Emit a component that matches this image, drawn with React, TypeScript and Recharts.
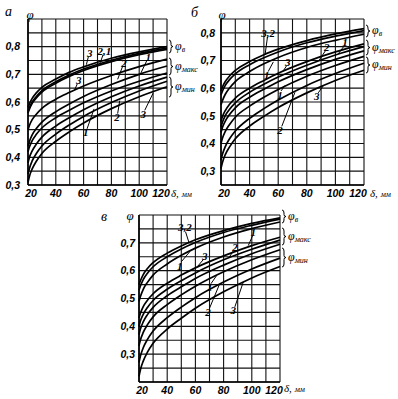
import React from 'react';
import { LineChart, Line, XAxis, YAxis, CartesianGrid, ReferenceLine, ReferenceDot } from 'recharts';

// δ, мм — points where the curves were read
const DELTA = [20, 21, 23, 26, 30, 40, 50, 60, 80, 100, 120];
const X_TICKS = [20, 30, 40, 50, 60, 70, 80, 90, 100, 110, 120];
const X_LABELS = [20, 40, 60, 80, 100, 120];

// panel а
const aPhiB3 = [0.58, 0.593, 0.613, 0.633, 0.653, 0.683, 0.708, 0.727, 0.758, 0.781, 0.8];
const aPhiB2 = [0.565, 0.579, 0.6, 0.62, 0.641, 0.673, 0.698, 0.719, 0.751, 0.776, 0.795];
const aPhiB1 = [0.56, 0.574, 0.595, 0.615, 0.636, 0.668, 0.693, 0.714, 0.746, 0.771, 0.79];
const aPhiMax2 = [0.5, 0.515, 0.536, 0.556, 0.577, 0.61, 0.635, 0.658, 0.696, 0.728, 0.755];
const aPhiMax1 = [0.44, 0.457, 0.481, 0.504, 0.527, 0.565, 0.594, 0.62, 0.663, 0.7, 0.73];
const aPhiMax3 = [0.42, 0.437, 0.46, 0.483, 0.506, 0.543, 0.571, 0.597, 0.64, 0.675, 0.705];
const aPhiMin1 = [0.38, 0.399, 0.423, 0.448, 0.473, 0.513, 0.544, 0.572, 0.619, 0.658, 0.69];
const aPhiMin2 = [0.34, 0.36, 0.387, 0.414, 0.441, 0.484, 0.518, 0.548, 0.598, 0.64, 0.675];
const aPhiMin3 = [0.31, 0.331, 0.358, 0.386, 0.414, 0.458, 0.493, 0.524, 0.576, 0.619, 0.655];
const aYTicks = [0.3, 0.35, 0.4, 0.45, 0.5, 0.55, 0.6, 0.65, 0.7, 0.75, 0.8, 0.85, 0.9];
const aYLabels = [0.3, 0.4, 0.5, 0.6, 0.7, 0.8];

// panel б
const bPhiB3 = [0.59, 0.604, 0.624, 0.644, 0.664, 0.696, 0.721, 0.741, 0.772, 0.796, 0.815];
const bPhiB2 = [0.575, 0.589, 0.61, 0.631, 0.652, 0.685, 0.71, 0.731, 0.764, 0.788, 0.808];
const bPhiB1 = [0.54, 0.555, 0.578, 0.601, 0.624, 0.66, 0.688, 0.711, 0.747, 0.773, 0.795];
const bPhiMax3 = [0.48, 0.497, 0.519, 0.542, 0.564, 0.6, 0.628, 0.654, 0.696, 0.731, 0.76];
const bPhiMax2 = [0.46, 0.477, 0.501, 0.524, 0.547, 0.585, 0.614, 0.64, 0.683, 0.72, 0.75];
const bPhiMax1 = [0.44, 0.458, 0.481, 0.505, 0.529, 0.567, 0.596, 0.623, 0.667, 0.704, 0.735];
const bPhiMin1 = [0.4, 0.419, 0.444, 0.469, 0.495, 0.535, 0.567, 0.595, 0.643, 0.682, 0.715];
const bPhiMin2 = [0.34, 0.361, 0.389, 0.417, 0.445, 0.491, 0.526, 0.557, 0.61, 0.653, 0.69];
const bPhiMin3 = [0.31, 0.331, 0.36, 0.388, 0.417, 0.463, 0.498, 0.53, 0.583, 0.628, 0.665];
const bYTicks = [0.25, 0.3, 0.35, 0.4, 0.45, 0.5, 0.55, 0.6, 0.65, 0.7, 0.75, 0.8, 0.85];
const bYLabels = [0.3, 0.4, 0.5, 0.6, 0.7, 0.8];

// panel в
const cPhiB3 = [0.55, 0.564, 0.586, 0.608, 0.629, 0.663, 0.689, 0.711, 0.744, 0.77, 0.79];
const cPhiB2 = [0.53, 0.545, 0.568, 0.591, 0.614, 0.65, 0.678, 0.701, 0.737, 0.763, 0.785];
const cPhiB1 = [0.49, 0.507, 0.533, 0.558, 0.584, 0.624, 0.655, 0.681, 0.721, 0.751, 0.775];
const cPhiMax3 = [0.43, 0.447, 0.471, 0.494, 0.517, 0.555, 0.584, 0.61, 0.653, 0.69, 0.72];
const cPhiMax2 = [0.4, 0.419, 0.443, 0.468, 0.493, 0.533, 0.564, 0.592, 0.639, 0.677, 0.71];
const cPhiMax1 = [0.37, 0.39, 0.416, 0.442, 0.468, 0.51, 0.542, 0.572, 0.62, 0.661, 0.695];
const cPhiMin1 = [0.33, 0.351, 0.378, 0.406, 0.434, 0.478, 0.513, 0.544, 0.596, 0.639, 0.675];
const cPhiMin2 = [0.27, 0.293, 0.323, 0.353, 0.383, 0.431, 0.469, 0.503, 0.559, 0.606, 0.645];
const cPhiMin3 = [0.22, 0.244, 0.275, 0.307, 0.339, 0.39, 0.429, 0.465, 0.524, 0.574, 0.615];
const cYTicks = [0.2, 0.25, 0.3, 0.35, 0.4, 0.45, 0.5, 0.55, 0.6, 0.65, 0.7, 0.75, 0.8];
const cYLabels = [0.3, 0.4, 0.5, 0.6, 0.7];

type Note = { t: string; x: number; y: number; from: [number, number]; to: [number, number] };

// curve numbers with their leader strokes (data coords)
const aNotes: Note[] = [
  { t: '3', x: 64.5, y: 0.776, from: [63.5, 0.765], to: [62, 0.735] },
  { t: '2,1', x: 75, y: 0.783, from: [74, 0.771], to: [72, 0.742] },
  { t: '3', x: 56.5, y: 0.678, from: [55.5, 0.666], to: [53.5, 0.643] },
  { t: '2', x: 89, y: 0.74, from: [88, 0.728], to: [84.5, 0.682] },
  { t: '1', x: 106.5, y: 0.762, from: [105.5, 0.75], to: [100.5, 0.697] },
  { t: '1', x: 61.5, y: 0.49, from: [62.5, 0.503], to: [67.5, 0.575] },
  { t: '2', x: 84, y: 0.545, from: [84.5, 0.558], to: [86, 0.605] },
  { t: '3', x: 103, y: 0.557, from: [104, 0.57], to: [110, 0.632] },
];
const bNotes: Note[] = [
  { t: '3,2', x: 53, y: 0.8, from: [52.5, 0.785], to: [50.8, 0.72] },
  { t: '1', x: 52, y: 0.647, from: [53, 0.66], to: [56.6, 0.695] },
  { t: '3', x: 66.6, y: 0.694, from: [66, 0.682], to: [63.5, 0.662] },
  { t: '1', x: 61.3, y: 0.576, from: [62, 0.59], to: [64.8, 0.61] },
  { t: '2', x: 61.3, y: 0.447, from: [62.5, 0.462], to: [71.7, 0.585] },
  { t: '3', x: 86.9, y: 0.571, from: [88, 0.583], to: [91.6, 0.609] },
  { t: '2', x: 93.9, y: 0.747, from: [93, 0.735], to: [88.5, 0.7] },
  { t: '1', x: 106.7, y: 0.765, from: [106, 0.752], to: [102, 0.724] },
];
const cNotes: Note[] = [
  { t: '3,2', x: 52.5, y: 0.755, from: [53, 0.74], to: [55.5, 0.7] },
  { t: '1', x: 48.9, y: 0.618, from: [50, 0.632], to: [56, 0.668] },
  { t: '3', x: 66.7, y: 0.654, from: [66, 0.642], to: [61, 0.612] },
  { t: '2', x: 88, y: 0.683, from: [87, 0.672], to: [84, 0.648] },
  { t: '1', x: 101, y: 0.737, from: [100.5, 0.725], to: [97.5, 0.69] },
  { t: '1', x: 70.2, y: 0.54, from: [71, 0.553], to: [75, 0.582] },
  { t: '2', x: 69, y: 0.451, from: [70, 0.465], to: [77, 0.55] },
  { t: '3', x: 86.8, y: 0.457, from: [88, 0.47], to: [94, 0.56] },
];

const tickFont = {
  fill: '#000',
  fontSize: 10.5,
  fontStyle: 'italic',
  fontWeight: 700,
  fontFamily: '"Liberation Sans", Arial, sans-serif',
};

// x tick: the end labels sit a little inside the frame, as in the scan
const XTick = (props: any) => {
  const { x, y, payload } = props;
  const v = payload.value;
  if (!X_LABELS.includes(v)) return null;
  const shift = v === 20 ? 3 : v === 120 ? -6 : 0;
  return (
    <text x={x + shift} y={y + 9} textAnchor="middle" {...tickFont}>
      {v}
    </text>
  );
};

const buildRows = (curves: number[][]) =>
  DELTA.map((d, i) => {
    const row: Record<string, number> = { d };
    curves.forEach((c, k) => {
      row['s' + k] = c[i];
    });
    return row;
  });

interface PanelProps {
  left: number;
  top: number;
  width: number;
  height: number;
  margin: { top: number; right: number; bottom: number; left: number };
  yWidth: number;
  yGap: number;
  yDomain: [number, number];
  yTicks: number[];
  yLabels: number[];
  curves: number[][];
  notes: Note[];
}

const Panel: React.FC<PanelProps> = ({
  left, top, width, height, margin, yWidth, yGap, yDomain, yTicks, yLabels, curves, notes,
}) => {
  const data = buildRows(curves);
  const fmtY = (v: number) =>
    yLabels.some((l) => Math.abs(l - v) < 1e-6) ? v.toFixed(1).replace('.', ',') : '';
  return (
    <div style={{ position: 'absolute', left, top }}>
      <LineChart width={width} height={height} data={data} margin={margin}>
        <CartesianGrid stroke="#111" strokeWidth={1.1} />
        <XAxis
          dataKey="d"
          type="number"
          domain={[20, 120]}
          ticks={X_TICKS}
          interval={0}
          height={15}
          tickLine={false}
          tickSize={0}
          tickMargin={3}
          axisLine={{ stroke: '#000', strokeWidth: 1.5 }}
          tick={<XTick />}
        />
        <YAxis
          type="number"
          domain={yDomain}
          ticks={yTicks}
          interval={0}
          tickFormatter={fmtY}
          width={yWidth}
          tickLine={false}
          tickSize={0}
          tickMargin={yGap}
          axisLine={{ stroke: '#000', strokeWidth: 1.6 }}
          tick={tickFont}
        />
        {curves.map((_, k) => (
          <Line
            key={k}
            dataKey={'s' + k}
            type="monotone"
            stroke="#000"
            strokeWidth={1.7}
            dot={false}
            isAnimationActive={false}
          />
        ))}
        {notes.map((n, i) => (
          <ReferenceLine
            key={'l' + i}
            segment={[
              { x: n.from[0], y: n.from[1] },
              { x: n.to[0], y: n.to[1] },
            ]}
            stroke="#000"
            strokeWidth={1}
          />
        ))}
        {notes.map((n, i) => (
          <ReferenceDot
            key={'d' + i}
            x={n.x}
            y={n.y}
            r={0}
            fill="none"
            stroke="none"
            label={{
              value: n.t,
              position: 'center',
              fill: '#000',
              fontSize: 11,
              fontStyle: 'italic',
              fontWeight: 700,
              fontFamily: '"Liberation Serif", serif',
            }}
          />
        ))}
      </LineChart>
    </div>
  );
};

const bracePath = (x: number, y1: number, y2: number) => {
  const m = (y1 + y2) / 2;
  const w = 4;
  return `M${x},${y1} Q${x + w / 2},${y1} ${x + w / 2},${y1 + 3} L${x + w / 2},${m - 2} Q${x + w / 2},${m} ${x + w},${m} Q${x + w / 2},${m} ${x + w / 2},${m + 2} L${x + w / 2},${y2 - 3} Q${x + w / 2},${y2} ${x},${y2}`;
};

const Phi: React.FC<{ x: number; y: number; sub: string }> = ({ x, y, sub }) => (
  <text x={x} y={y} fontSize={12} fontStyle="italic" fontFamily='"Liberation Serif", serif' fill="#000">
    φ
    <tspan fontSize={8} dy={2}>
      {sub}
    </tspan>
  </text>
);

const Brackets: React.FC<{ x: number; spans: [number, number][] }> = ({ x, spans }) => {
  const subs = ['в', 'макс', 'мин'];
  return (
    <g>
      {spans.map((s, i) => (
        <g key={i}>
          <path d={bracePath(x, s[0], s[1])} fill="none" stroke="#000" strokeWidth={1} />
          <Phi x={x + 6} y={(s[0] + s[1]) / 2 + 3} sub={subs[i]} />
        </g>
      ))}
    </g>
  );
};

const labelFont = { fontFamily: '"Liberation Serif", serif', fontStyle: 'italic' as const, fill: '#000' };

export default function App() {
  return (
    <div style={{ position: 'absolute', left: 0, top: 0, width: 398, height: 399, background: '#fff', overflow: 'hidden' }}>
      <Panel
        left={0}
        top={0}
        width={200}
        height={200}
        margin={{ top: 19, right: 33, bottom: 0, left: 0 }}
        yWidth={28}
        yGap={8}
        yDomain={[0.3, 0.9]}
        yTicks={aYTicks}
        yLabels={aYLabels}
        curves={[aPhiB3, aPhiB2, aPhiB1, aPhiMax2, aPhiMax1, aPhiMax3, aPhiMin1, aPhiMin2, aPhiMin3]}
        notes={aNotes}
      />
      <Panel
        left={190}
        top={0}
        width={208}
        height={200}
        margin={{ top: 19, right: 34, bottom: 0, left: 0 }}
        yWidth={31}
        yGap={6}
        yDomain={[0.25, 0.85]}
        yTicks={bYTicks}
        yLabels={bYLabels}
        curves={[bPhiB3, bPhiB2, bPhiB1, bPhiMax3, bPhiMax2, bPhiMax1, bPhiMin1, bPhiMin2, bPhiMin3]}
        notes={bNotes}
      />
      <Panel
        left={100}
        top={200}
        width={220}
        height={197}
        margin={{ top: 15, right: 40, bottom: 0, left: 0 }}
        yWidth={39}
        yGap={4}
        yDomain={[0.2, 0.8]}
        yTicks={cYTicks}
        yLabels={cYLabels}
        curves={[cPhiB3, cPhiB2, cPhiB1, cPhiMax3, cPhiMax2, cPhiMax1, cPhiMin1, cPhiMin2, cPhiMin3]}
        notes={cNotes}
      />
      <svg width={398} height={399} style={{ position: 'absolute', left: 0, top: 0, pointerEvents: 'none' }}>
        <text x={5} y={16} fontSize={14} {...labelFont}>а</text>
        <text x={191} y={17} fontSize={14} {...labelFont}>б</text>
        <text x={101} y={221} fontSize={14} {...labelFont}>в</text>
        <text x={30} y={19} fontSize={13} textAnchor="middle" {...labelFont}>φ</text>
        <text x={222} y={19} fontSize={13} textAnchor="middle" {...labelFont}>φ</text>
        <text x={130} y={220} fontSize={13} textAnchor="middle" {...labelFont}>φ</text>
        <text x={171} y={197} fontSize={11} {...labelFont}>δ, <tspan fontSize={8}>мм</tspan></text>
        <text x={370} y={197} fontSize={11} {...labelFont}>δ, <tspan fontSize={8}>мм</tspan></text>
        <text x={284} y={392} fontSize={11} {...labelFont}>δ, <tspan fontSize={8}>мм</tspan></text>
        <Brackets x={169} spans={[[40, 53], [58, 75], [77, 97]]} />
        <Brackets x={366} spans={[[25, 37], [40, 55], [57, 73]]} />
        <Brackets x={282} spans={[[210, 223], [228, 245], [248, 267]]} />
      </svg>
    </div>
  );
}
